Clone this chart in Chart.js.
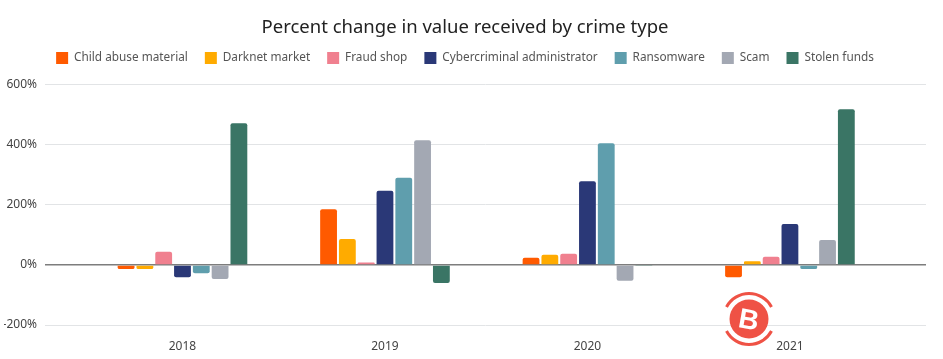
<!DOCTYPE html>
<html>
<head>
<meta charset="utf-8">
<style>
  html,body{margin:0;padding:0;background:#fff}
  #wrap{position:relative;width:943px;height:359px;overflow:hidden}
  #logo{position:absolute;left:0;top:0;pointer-events:none}
</style>
<script src="https://cdn.jsdelivr.net/npm/chart.js@4/dist/chart.umd.min.js"></script>
</head>
<body>
<div id="wrap">
  <canvas id="chart" width="943" height="359"></canvas>
  <!-- watermark sitting on top of the picture -->
  <svg id="logo" width="943" height="359">
    <circle cx="749" cy="319" r="19.5" fill="#ef5245"/>
    <path d="M726.5 307A25.5 25.5 0 0 1 771.5 307M726.5 331A25.5 25.5 0 0 0 771.5 331" fill="none" stroke="#ef5245" stroke-width="3"/>
    <text x="749" y="329" text-anchor="middle" transform="rotate(10 749 319)" font-family="Liberation Sans" font-weight="700" font-size="28" fill="#fff">B</text>
  </svg>
</div>
<script>
  const years=[2018,2019,2020,2021];
  const childAbuse=[-14,185,24,-41];
  const darknet=[-14,86,34,12];
  const fraudShop=[44,8,37,27];
  const cyberAdmin=[-41,247,278,136];
  const ransomware=[-28,290,405,-14];
  const scam=[-47,415,-53,83];
  const stolenFunds=[471,-60,-4,518];
  const yTicks=[-200,0,200,400,600];

  const FONT='Noto Sans';
  const toPoints=vals=>vals.map((v,i)=>({x:years[i],y:v}));
  const series=(label,vals,color)=>({label,data:toPoints(vals),backgroundColor:color,borderWidth:0,borderRadius:2});

  /* more air under the legend than its padding gives, so nudge its height */
  const legendGap={
    id:'legendGap',
    afterInit(chart){
      const fit=chart.legend.fit;
      chart.legend.fit=function(){fit.call(this);this.height+=10.6;};
    }
  };

  new Chart(document.getElementById('chart'),{
    type:'bar',
    plugins:[legendGap],
    data:{
      datasets:[
        series('Child abuse material',childAbuse,'#ff5a00'),
        series('Darknet market',darknet,'#ffab00'),
        series('Fraud shop',fraudShop,'#f0808f'),
        series('Cybercriminal administrator',cyberAdmin,'#2a3877'),
        series('Ransomware',ransomware,'#5f9ead'),
        series('Scam',scam,'#a3a8b3'),
        series('Stolen funds',stolenFunds,'#3a7565')
      ]
    },
    options:{
      responsive:false,
      animation:false,
      layout:{padding:{left:4,right:17,top:0,bottom:0}},
      datasets:{bar:{categoryPercentage:0.65,barPercentage:0.894}},
      plugins:{
        title:{
          display:true,
          text:'Percent change in value received by crime type',
          color:'#222',
          font:{family:FONT,size:18.5,weight:'400',lineHeight:0.8},
          padding:{top:20.2,bottom:0}
        },
        legend:{
          position:'top',
          labels:{boxWidth:12,boxHeight:12,padding:17,color:'#555',font:{family:FONT,size:11.8}}
        },
        tooltip:{enabled:false}
      },
      scales:{
        x:{
          type:'linear',
          offset:false,
          min:2017.321,
          max:2021.672,
          afterBuildTicks(axis){axis.ticks=years.map(y=>({value:y}));},
          afterFit(axis){axis.height=34;},
          grid:{display:false},
          border:{display:false},
          ticks:{autoSkip:false,maxRotation:0,padding:6,color:'#444',font:{family:FONT,size:12},callback:v=>String(v)}
        },
        y:{
          min:-200,
          max:600,
          afterBuildTicks(axis){axis.ticks=yTicks.map(v=>({value:v}));},
          afterFit(axis){axis.width=41;},
          border:{display:false},
          grid:{
            drawTicks:false,
            color:c=>c.tick.value===0?'#7d7d7d':'#e2e4e6',
            lineWidth:c=>c.tick.value===0?1.5:1
          },
          ticks:{padding:8,color:'#444',font:{family:FONT,size:12},callback:v=>v+'%'}
        }
      }
    }
  });
</script>
</body>
</html>
